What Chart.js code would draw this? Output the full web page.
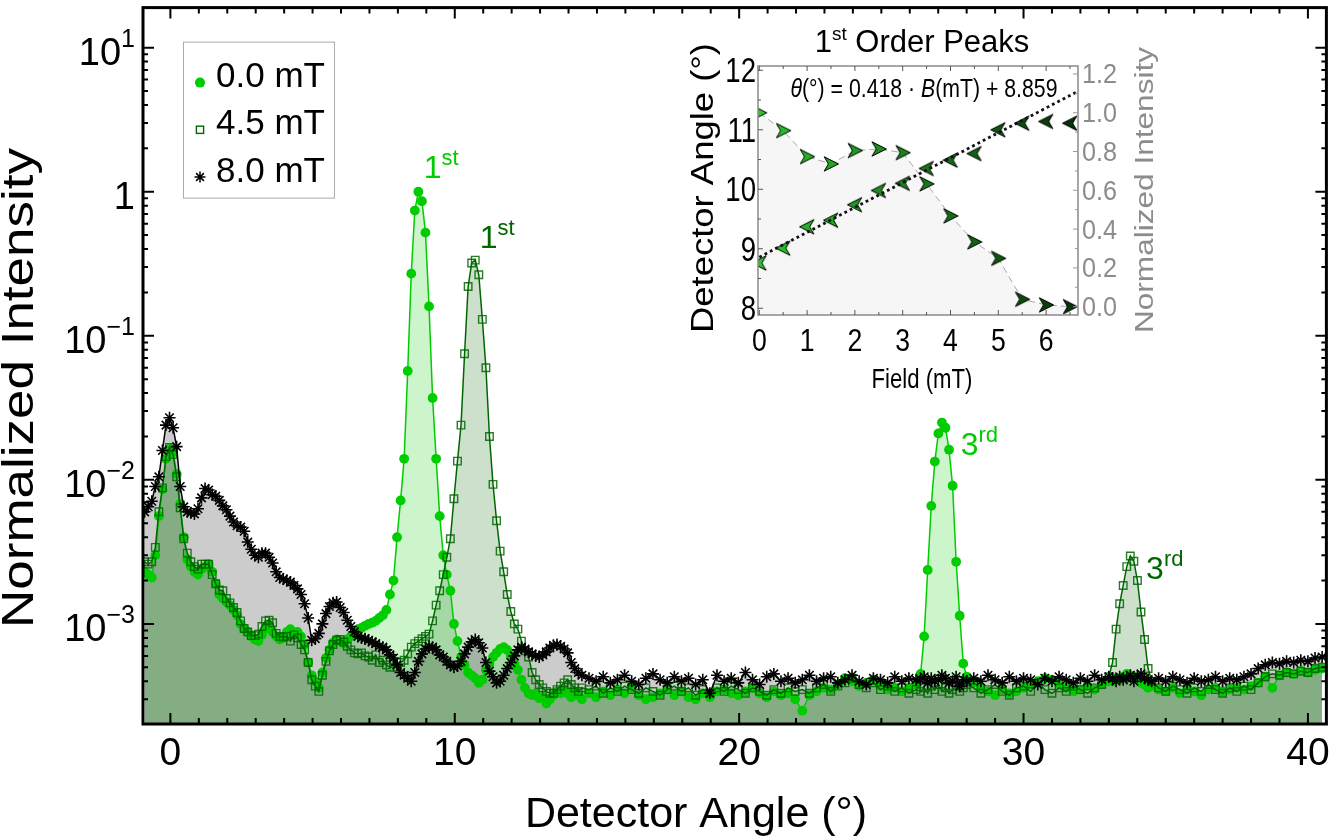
<!DOCTYPE html>
<html>
<head>
<meta charset="utf-8">
<title>Detector angle scans at 0.0, 4.5 and 8.0 mT</title>
<script src="https://cdn.jsdelivr.net/npm/chart.js@4.4.1/dist/chart.umd.min.js"></script>
<style>
  html, body { margin: 0; padding: 0; background: #fff; }
  #wrap { position: relative; width: 1334px; height: 836px; overflow: hidden; }
  #main { position: absolute; left: 0; top: 0; }
  #inset { position: absolute; left: 680px; top: 15px; }
</style>
</head>
<body>
<div id="wrap">
  <canvas id="main" width="1334" height="836"></canvas>
  <canvas id="inset" width="480" height="385"></canvas>
</div>
<script>
// ---- scan angles (deg), fine steps up to 14.5 deg ----
const angleNear = [
  -0.905, -0.78, -0.655, -0.53, -0.405, -0.28, -0.155, -0.03, 0.095, 0.22,
  0.345, 0.47, 0.595, 0.72, 0.845, 0.97, 1.095, 1.22, 1.345, 1.47,
  1.595, 1.72, 1.845, 1.97, 2.095, 2.22, 2.345, 2.47, 2.595, 2.72,
  2.845, 2.97, 3.095, 3.22, 3.345, 3.47, 3.595, 3.72, 3.845, 3.97,
  4.095, 4.22, 4.345, 4.47, 4.595, 4.72, 4.845, 4.97, 5.095, 5.22,
  5.345, 5.47, 5.595, 5.72, 5.845, 5.97, 6.095, 6.22, 6.345, 6.47,
  6.595, 6.72, 6.845, 6.97, 7.095, 7.22, 7.345, 7.47, 7.595, 7.72,
  7.845, 7.97, 8.095, 8.22, 8.345, 8.47, 8.595, 8.72, 8.845, 8.97,
  9.095, 9.22, 9.345, 9.47, 9.595, 9.72, 9.845, 9.97, 10.095, 10.22,
  10.345, 10.47, 10.595, 10.72, 10.845, 10.97, 11.095, 11.22, 11.345, 11.47,
  11.595, 11.72, 11.845, 11.97, 12.095, 12.22, 12.345, 12.47, 12.595, 12.72,
  12.845, 12.97, 13.095, 13.22, 13.345, 13.47, 13.595, 13.72, 13.845, 13.97,
  14.095, 14.22, 14.345, 14.47
];
// ---- scan angles (deg) beyond 14.5 deg ----
const angleFar = [
  14.72, 14.97, 15.22, 15.47, 15.72, 15.97, 16.22, 16.47, 16.72, 16.97,
  17.22, 17.47, 17.72, 17.97, 18.22, 18.47, 18.72, 18.97, 19.22, 19.47,
  19.72, 19.97, 20.22, 20.47, 20.72, 20.97, 21.22, 21.47, 21.72, 21.97,
  22.22, 22.47, 22.72, 22.97, 23.22, 23.47, 23.72, 23.97, 24.22, 24.47,
  24.72, 24.97, 25.22, 25.47, 25.72, 25.97, 26.22,
  26.38, 26.505, 26.63, 26.755, 26.88, 27.005, 27.13, 27.255, 27.38, 27.505, 27.63, 27.755, 27.88, 28.005,
  28.25, 28.5, 28.75, 29, 29.25, 29.5, 29.75, 30, 30.25, 30.5, 30.75, 31, 31.25, 31.5, 31.75, 32, 32.25, 32.5, 32.75, 33,
  33.13, 33.255, 33.38, 33.505, 33.63, 33.755, 33.88, 34.005, 34.13, 34.255, 34.38, 34.505,
  34.75, 35, 35.25, 35.5, 35.75, 36, 36.25, 36.5, 36.75, 37, 37.25, 37.5, 37.75, 38, 38.25, 38.5, 38.75, 39, 39.25, 39.5, 39.75, 40, 40.25, 40.5
];

// ---- normalized intensity, 0.0 mT ----
const int00Near = [
  2.3e-3, 2.2e-3, 2.1e-3, 3.0e-3, 5.6e-3, 8.6e-3, 1.4e-2, 1.65e-2, 1.55e-2, 1.1e-2,
  6.8e-3, 4.0e-3, 2.8e-3, 2.5e-3, 2.3e-3, 2.2e-3, 2.4e-3, 2.5e-3, 2.6e-3, 2.3e-3,
  1.9e-3, 1.6e-3, 1.5e-3, 1.42e-3, 1.35e-3, 1.25e-3, 1.15e-3, 1.0e-3, 9.2e-4, 8.8e-4,
  8.2e-4, 7.8e-4, 7.6e-4, 8.4e-4, 9.3e-4, 9.8e-4, 8.8e-4, 8.2e-4, 7.8e-4, 8.0e-4,
  8.8e-4, 9.2e-4, 8.4e-4, 8.8e-4, 8.2e-4, 7.2e-4, 5.4e-4, 4.4e-4, 4.0e-4, 3.6e-4,
  4.6e-4, 5.8e-4, 6.6e-4, 7.4e-4, 7.8e-4, 7.6e-4, 7.3e-4, 7.8e-4, 8.2e-4, 8.6e-4,
  9.2e-4, 9.4e-4, 9.7e-4, 1.0e-3, 1.02e-3, 1.05e-3, 1.1e-3, 1.15e-3, 1.25e-3, 1.6e-3,
  2.0e-3, 4.0e-3, 7.2e-3, 1.4e-2, 5.7e-2, 0.27, 0.74, 1.0, 0.86, 0.52,
  0.16, 3.7e-2, 1.4e-2, 5.6e-3, 3.0e-3, 2.2e-3, 1.7e-3, 1.0e-3, 7.6e-4, 5.9e-4,
  5.2e-4, 4.6e-4, 4.4e-4, 4.2e-4, 3.9e-4, 4.1e-4, 4.8e-4, 5.3e-4, 5.9e-4, 6.3e-4,
  6.7e-4, 6.9e-4, 6.6e-4, 6.0e-4, 5.3e-4, 4.8e-4, 4.1e-4, 3.6e-4, 3.3e-4, 3.2e-4,
  3.3e-4, 3.05e-4, 3.1e-4, 2.8e-4, 3.0e-4, 3.2e-4, 3.4e-4, 3.3e-4, 3.5e-4, 3.3e-4,
  3.1e-4, 3.4e-4, 3.2e-4, 3.0e-4
];
const int00Far = [
  3.3e-4, 3.1e-4, 3.4e-4, 3.2e-4, 3.5e-4, 3.3e-4, 3.6e-4, 3.2e-4, 3.0e-4, 3.1e-4,
  3.3e-4, 3.5e-4, 3.2e-4, 3.4e-4, 3.1e-4, 3.0e-4, 3.3e-4, 3.1e-4, 3.4e-4, 3.5e-4,
  3.3e-4, 3.2e-4, 3.4e-4, 3.6e-4, 3.3e-4, 3.1e-4, 3.4e-4, 3.2e-4, 3.3e-4, 3.0e-4,
  2.5e-4, 3.2e-4, 3.4e-4, 3.6e-4, 3.5e-4, 3.8e-4, 4.2e-4, 4.0e-4, 3.7e-4, 3.9e-4,
  4.1e-4, 3.7e-4, 3.5e-4, 3.6e-4, 3.4e-4, 3.6e-4, 3.8e-4,
  4.5e-4, 8.2e-4, 2.37e-3, 6.6e-3, 1.34e-2, 2.1e-2, 2.5e-2, 2.3e-2, 1.62e-2, 9.1e-3, 2.7e-3, 1.14e-3, 5.3e-4, 4.3e-4,
  3.9e-4, 3.6e-4, 3.4e-4, 3.2e-4, 3.5e-4, 3.3e-4, 3.4e-4, 3.6e-4, 3.8e-4, 4.0e-4, 4.2e-4, 4.1e-4, 3.8e-4, 3.6e-4, 3.4e-4, 3.5e-4, 3.7e-4, 3.5e-4, 3.8e-4, 4.0e-4,
  4.0e-4, 4.2e-4, 4.1e-4, 4.3e-4, 4.5e-4, 4.4e-4, 4.3e-4, 4.1e-4, 3.9e-4, 3.8e-4, 3.6e-4, 3.7e-4,
  3.5e-4, 3.4e-4, 3.6e-4, 3.3e-4, 3.5e-4, 3.4e-4, 3.2e-4, 3.5e-4, 3.6e-4, 3.4e-4, 3.5e-4, 3.6e-4, 3.5e-4, 3.7e-4, 3.9e-4, 4.3e-4, 3.6e-4, 4.4e-4, 4.6e-4, 4.5e-4, 4.7e-4, 4.6e-4, 4.8e-4, 4.9e-4
];

// ---- normalized intensity, 4.5 mT ----
const int45Near = [
  2.7e-3, 2.6e-3, 2.7e-3, 3.4e-3, 6.0e-3, 8.8e-3, 1.45e-2, 1.68e-2, 1.5e-2, 1.05e-2,
  6.4e-3, 3.9e-3, 3.1e-3, 2.7e-3, 2.5e-3, 2.4e-3, 2.6e-3, 2.6e-3, 2.6e-3, 2.2e-3,
  1.9e-3, 1.72e-3, 1.7e-3, 1.5e-3, 1.4e-3, 1.3e-3, 1.2e-3, 1.05e-3, 9.3e-4, 8.8e-4,
  8.3e-4, 8.3e-4, 8.5e-4, 9.6e-4, 1.05e-3, 1.06e-3, 1.02e-3, 8.6e-4, 8.2e-4, 8.1e-4,
  8.2e-4, 7.6e-4, 8.4e-4, 8.0e-4, 7.2e-4, 6.6e-4, 5.4e-4, 4.1e-4, 3.7e-4, 3.4e-4,
  4.4e-4, 5.5e-4, 6.5e-4, 7.2e-4, 7.7e-4, 7.8e-4, 7.5e-4, 7.0e-4, 6.6e-4, 6.3e-4,
  6.2e-4, 6.3e-4, 6.0e-4, 5.9e-4, 5.6e-4, 6.1e-4, 5.4e-4, 5.6e-4, 5.2e-4, 5.0e-4,
  5.3e-4, 5.0e-4, 5.4e-4, 5.6e-4, 6.2e-4, 6.9e-4, 7.3e-4, 7.6e-4, 7.9e-4, 8.2e-4,
  8.5e-4, 1.05e-3, 1.35e-3, 1.7e-3, 2.2e-3, 2.9e-3, 3.9e-3, 7.4e-3, 1.35e-2, 2.4e-2,
  7.5e-2, 0.22, 0.32, 0.335, 0.265, 0.13, 6.0e-2, 2.0e-2, 9.3e-3, 5.2e-3,
  3.2e-3, 2.3e-3, 1.6e-3, 1.22e-3, 1.0e-3, 9.2e-4, 7.6e-4, 6.5e-4, 5.9e-4, 4.6e-4,
  4.1e-4, 3.8e-4, 3.6e-4, 3.4e-4, 3.3e-4, 3.3e-4, 3.5e-4, 3.7e-4, 3.9e-4, 4.1e-4,
  3.8e-4, 3.6e-4, 3.4e-4, 3.6e-4
];
const int45Far = [
  3.5e-4, 3.7e-4, 3.3e-4, 3.6e-4, 3.4e-4, 3.7e-4, 3.5e-4, 3.3e-4, 3.6e-4, 3.4e-4,
  3.2e-4, 3.5e-4, 3.7e-4, 3.4e-4, 3.6e-4, 3.2e-4, 3.5e-4, 3.3e-4, 3.6e-4, 3.4e-4,
  3.7e-4, 3.5e-4, 3.3e-4, 3.6e-4, 3.4e-4, 3.2e-4, 3.5e-4, 3.3e-4, 3.6e-4, 3.4e-4,
  3.5e-4, 3.3e-4, 3.6e-4, 3.8e-4, 3.4e-4, 3.7e-4, 3.9e-4, 4.2e-4, 3.8e-4, 3.6e-4,
  3.9e-4, 3.5e-4, 3.7e-4, 3.4e-4, 3.6e-4, 3.3e-4, 3.5e-4,
  3.4e-4, 3.6e-4, 3.3e-4, 3.7e-4, 3.5e-4, 3.8e-4, 3.4e-4, 3.6e-4, 3.3e-4, 3.5e-4, 3.7e-4, 3.4e-4, 3.6e-4, 3.8e-4,
  3.6e-4, 3.3e-4, 3.5e-4, 3.8e-4, 3.4e-4, 3.2e-4, 3.6e-4, 3.7e-4, 3.4e-4, 3.9e-4, 3.5e-4, 3.3e-4, 3.6e-4, 3.4e-4, 3.7e-4, 3.5e-4, 3.3e-4, 3.6e-4, 3.8e-4, 4.3e-4,
  5.4e-4, 9.2e-4, 1.38e-3, 1.85e-3, 2.5e-3, 2.96e-3, 2.72e-3, 2.0e-3, 1.21e-3, 7.8e-4, 4.9e-4, 4.0e-4,
  3.6e-4, 3.4e-4, 3.7e-4, 3.5e-4, 3.3e-4, 3.6e-4, 3.4e-4, 3.8e-4, 3.5e-4, 3.3e-4, 3.6e-4, 3.4e-4, 3.7e-4, 3.5e-4, 3.9e-4, 4.3e-4, 4.5e-4, 4.4e-4, 4.6e-4, 4.5e-4, 4.7e-4, 4.6e-4, 4.9e-4, 5.0e-4
];

// ---- normalized intensity, 8.0 mT ----
const int80Near = [
  6.0e-3, 6.5e-3, 7.1e-3, 9.0e-3, 1.05e-2, 1.6e-2, 2.4e-2, 2.7e-2, 2.3e-2, 1.7e-2,
  9.0e-3, 6.5e-3, 6.0e-3, 5.9e-3, 5.8e-3, 6.3e-3, 7.5e-3, 8.7e-3, 8.5e-3, 7.9e-3,
  7.7e-3, 7.2e-3, 6.6e-3, 6.2e-3, 5.6e-3, 5.1e-3, 4.8e-3, 4.7e-3, 4.4e-3, 3.7e-3,
  3.3e-3, 3.0e-3, 2.9e-3, 3.1e-3, 3.1e-3, 2.9e-3, 2.65e-3, 2.3e-3, 2.1e-3, 2.05e-3,
  2.0e-3, 1.95e-3, 1.85e-3, 1.75e-3, 1.6e-3, 1.38e-3, 1.1e-3, 7.7e-4, 7.9e-4, 8.6e-4,
  1.0e-3, 1.18e-3, 1.32e-3, 1.4e-3, 1.42e-3, 1.3e-3, 1.2e-3, 1.06e-3, 9.6e-4, 8.8e-4,
  8.2e-4, 8.0e-4, 7.9e-4, 7.7e-4, 7.5e-4, 7.3e-4, 7.0e-4, 6.9e-4, 6.6e-4, 6.1e-4,
  5.8e-4, 5.2e-4, 4.6e-4, 4.4e-4, 4.2e-4, 4.0e-4, 4.6e-4, 5.5e-4, 6.2e-4, 6.7e-4,
  7.0e-4, 6.9e-4, 6.6e-4, 6.1e-4, 5.9e-4, 5.5e-4, 5.2e-4, 5.0e-4, 5.1e-4, 5.5e-4,
  6.2e-4, 6.9e-4, 7.5e-4, 7.8e-4, 7.4e-4, 6.8e-4, 5.4e-4, 4.7e-4, 4.3e-4, 3.9e-4,
  4.0e-4, 4.4e-4, 4.9e-4, 5.4e-4, 6.0e-4, 6.6e-4, 6.9e-4, 6.7e-4, 6.4e-4, 6.2e-4,
  6.0e-4, 5.9e-4, 6.1e-4, 6.4e-4, 6.8e-4, 7.1e-4, 7.2e-4, 7.0e-4, 6.7e-4, 6.3e-4,
  5.4e-4, 4.9e-4, 4.6e-4, 4.4e-4
];
const int80Far = [
  4.2e-4, 4.0e-4, 4.3e-4, 3.9e-4, 4.1e-4, 4.4e-4, 4.0e-4, 3.8e-4, 4.2e-4, 4.5e-4,
  4.1e-4, 3.9e-4, 4.3e-4, 4.0e-4, 4.2e-4, 3.8e-4, 4.1e-4, 3.3e-4, 4.4e-4, 4.0e-4,
  4.2e-4, 3.9e-4, 4.6e-4, 4.1e-4, 3.8e-4, 4.3e-4, 4.5e-4, 4.0e-4, 4.2e-4, 3.9e-4,
  4.1e-4, 4.4e-4, 4.0e-4, 4.2e-4, 4.3e-4, 3.9e-4, 4.1e-4, 4.4e-4, 4.0e-4, 3.8e-4,
  4.2e-4, 4.1e-4, 3.9e-4, 4.3e-4, 4.0e-4, 4.2e-4, 4.1e-4,
  4.1e-4, 4.3e-4, 3.9e-4, 4.2e-4, 4.0e-4, 4.1e-4, 4.4e-4, 4.2e-4, 3.9e-4, 4.0e-4, 4.3e-4, 3.7e-4, 4.1e-4, 4.0e-4,
  4.2e-4, 4.0e-4, 4.4e-4, 4.1e-4, 3.9e-4, 4.3e-4, 4.0e-4, 4.2e-4, 4.1e-4, 3.8e-4, 4.2e-4, 4.0e-4, 4.3e-4, 4.1e-4, 3.9e-4, 4.2e-4, 4.0e-4, 4.4e-4, 4.1e-4, 4.3e-4,
  4.2e-4, 4.0e-4, 4.3e-4, 4.1e-4, 4.2e-4, 4.4e-4, 4.0e-4, 4.3e-4, 4.5e-4, 4.2e-4, 4.1e-4, 4.0e-4,
  4.2e-4, 4.0e-4, 4.3e-4, 4.1e-4, 3.9e-4, 4.2e-4, 4.0e-4, 4.1e-4, 4.3e-4, 4.0e-4, 4.2e-4, 4.1e-4, 4.3e-4, 4.5e-4, 4.9e-4, 5.2e-4, 5.4e-4, 5.3e-4, 5.5e-4, 5.4e-4, 5.6e-4, 5.5e-4, 5.8e-4, 5.9e-4
];

const seriesLabels = ['0.0 mT', '4.5 mT', '8.0 mT'];
const xLabelTicks = [0, 10, 20, 30, 40];
const yDecades = [-3, -2, -1, 0, 1];

// ---- inset: first order peak vs field ----
const fieldMT = [0, 0.5, 1, 1.5, 2, 2.5, 3, 3.5, 4, 4.5, 5, 5.5, 6, 6.5];
const peakAngle = [8.76, 9.01, 9.37, 9.48, 9.74, 9.98, 10.1, 10.35, 10.49, 10.6, 11.0, 11.11, 11.14, 11.11];
const peakIntensity = [1.0, 0.908, 0.774, 0.736, 0.805, 0.813, 0.794, 0.633, 0.468, 0.334, 0.249, 0.038, 0.009, 0.0];
const fitField = [0, 6.667];
const fitAngle = [8.859, 11.646];
const insetAngleTicks = [8, 9, 10, 11, 12];
const insetIntTicks = [0, 0.2, 0.4, 0.6, 0.8, 1.0, 1.2];
const insetFieldTicks = [0, 1, 2, 3, 4, 5, 6];

const FONT = '"Liberation Sans", Arial, Helvetica, sans-serif';
const GREEN = 'rgb(0,204,0)';
const DKGREEN = 'rgb(0,102,0)';

const angles = angleNear.concat(angleFar);
function toPoints(near, far) {
  const v = near.concat(far);
  if (v.length !== angles.length) console.warn('length mismatch', v.length, angles.length);
  return angles.map((a, i) => ({ x: a, y: v[i] }));
}

// text made of runs: [text, size, rise, italic]; sx/sy stretch the whole run
function drawRuns(ctx, parts, x, y, align, color, sx, sy) {
  sx = sx || 1;
  sy = sy || 1;
  let w = 0;
  parts.forEach(p => {
    ctx.font = (p[3] ? 'italic ' : '') + p[1] + 'px ' + FONT;
    w += ctx.measureText(p[0]).width;
  });
  ctx.save();
  ctx.translate(x, y);
  ctx.scale(sx, sy);
  let cx = align === 'right' ? -w : align === 'center' ? -w / 2 : 0;
  ctx.fillStyle = color;
  ctx.textAlign = 'left';
  ctx.textBaseline = 'alphabetic';
  parts.forEach(p => {
    ctx.font = (p[3] ? 'italic ' : '') + p[1] + 'px ' + FONT;
    ctx.fillText(p[0], cx, -(p[2] || 0));
    cx += ctx.measureText(p[0]).width;
  });
  ctx.restore();
  return w * sx;
}

function drawVertical(ctx, text, x, y, size, length, color) {
  ctx.save();
  ctx.translate(x, y);
  ctx.rotate(-Math.PI / 2);
  ctx.font = size + 'px ' + FONT;
  const w = ctx.measureText(text).width;
  ctx.scale(length / w, 1);
  ctx.fillStyle = color;
  ctx.textAlign = 'center';
  ctx.textBaseline = 'alphabetic';
  ctx.fillText(text, 0, 0);
  ctx.restore();
}

function drawStar(ctx, x, y, r) {
  ctx.beginPath();
  for (let k = 0; k < 4; k++) {
    const t = k * Math.PI / 4;
    ctx.moveTo(x - Math.cos(t) * r, y - Math.sin(t) * r);
    ctx.lineTo(x + Math.cos(t) * r, y + Math.sin(t) * r);
  }
  ctx.stroke();
}

const mainDecor = {
  id: 'mainDecor',
  afterDraw(chart) {
    const ctx = chart.ctx, a = chart.chartArea;
    const xs = chart.scales.x, ys = chart.scales.y;
    ctx.save();

    // inward ticks on all four sides
    ctx.strokeStyle = '#000';
    ctx.lineWidth = 2;
    ctx.beginPath();
    for (let d = 0; d <= 40; d++) {
      const px = xs.getPixelForValue(d), len = d % 10 === 0 ? 11 : 6;
      ctx.moveTo(px, a.bottom); ctx.lineTo(px, a.bottom - len);
      ctx.moveTo(px, a.top); ctx.lineTo(px, a.top + len);
    }
    for (let e = -4; e <= 1; e++) {
      for (let m = 1; m <= 9; m++) {
        const v = m * Math.pow(10, e);
        if (v < ys.min || v > ys.max) continue;
        const py = ys.getPixelForValue(v), len = m === 1 ? 11 : 5;
        ctx.moveTo(a.left, py); ctx.lineTo(a.left + len, py);
        ctx.moveTo(a.right, py); ctx.lineTo(a.right - len, py);
      }
    }
    ctx.stroke();
    ctx.lineWidth = 3;
    ctx.strokeRect(a.left, a.top, a.right - a.left, a.bottom - a.top);

    // tick labels
    xLabelTicks.forEach(v => {
      drawRuns(ctx, [[String(v), 39]], xs.getPixelForValue(v), a.bottom + 41, 'center', '#000');
    });
    yDecades.forEach(e => {
      const py = ys.getPixelForValue(Math.pow(10, e));
      const parts = e === 0 ? [['1', 38]] : [['10', 38], [e < 0 ? '\u2212' + (-e) : String(e), 25, 18]];
      drawRuns(ctx, parts, a.left - 8, py + 17, 'right', '#000');
    });

    // axis titles
    drawRuns(ctx, [['Detector Angle (\u00b0)', 43]], 696, 827, 'center', '#000');
    drawVertical(ctx, 'Normalized Intensity', 33, 388, 45, 480, '#000');

    // legend
    const lx = a.left + 40, ly = a.top + 34;
    ctx.lineWidth = 1;
    ctx.strokeStyle = '#ababab';
    ctx.strokeRect(lx + 0.5, ly + 0.5, 151, 156);
    seriesLabels.forEach((lab, i) => {
      const my = ly + 41 + i * 47.2, mx = lx + 17;
      if (i === 0) {
        ctx.fillStyle = GREEN;
        ctx.beginPath(); ctx.arc(mx, my, 5, 0, Math.PI * 2); ctx.fill();
      } else if (i === 1) {
        ctx.strokeStyle = DKGREEN; ctx.lineWidth = 1.4;
        ctx.strokeRect(mx - 3.6, my - 3.6, 7.2, 7.2);
      } else {
        ctx.strokeStyle = '#000'; ctx.lineWidth = 1.5;
        drawStar(ctx, mx, my, 5.5);
      }
      drawRuns(ctx, [[lab, 35]], lx + 33, ly + 45 + i * 47.5, 'left', '#000');
    });

    // peak order labels
    const notes = [
      [8.98, 1.24, '1', 'st', GREEN],
      [10.95, 0.41, '1', 'st', DKGREEN],
      [27.86, 0.0149, '3', 'rd', GREEN],
      [34.38, 2.05e-3, '3', 'rd', DKGREEN]
    ];
    notes.forEach(n => {
      drawRuns(ctx, [[n[2], 32], [n[3], 22, 13]], xs.getPixelForValue(n[0]) - 2, ys.getPixelForValue(n[1]), 'left', n[4]);
    });
    ctx.restore();
  }
};

new Chart(document.getElementById('main'), {
  type: 'line',
  data: {
    datasets: [
      {
        label: seriesLabels[2],
        data: toPoints(int80Near, int80Far),
        borderColor: '#000',
        borderWidth: 1.5,
        backgroundColor: 'rgba(0,0,0,0.2)',
        fill: 'start',
        pointStyle: 'star',
        pointRadius: 6,
        pointBorderColor: '#000',
        pointBorderWidth: 1.6,
        pointBackgroundColor: '#000'
      },
      {
        label: seriesLabels[1],
        data: toPoints(int45Near, int45Far),
        borderColor: DKGREEN,
        borderWidth: 1.5,
        backgroundColor: 'rgba(0,102,0,0.2)',
        fill: 'start',
        pointStyle: 'rect',
        pointRadius: 5.3,
        pointBorderColor: 'rgba(0,102,0,0.85)',
        pointBorderWidth: 1.4,
        pointBackgroundColor: 'rgba(0,0,0,0)'
      },
      {
        label: seriesLabels[0],
        data: toPoints(int00Near, int00Far),
        borderColor: GREEN,
        borderWidth: 1.5,
        backgroundColor: 'rgba(0,204,0,0.2)',
        fill: 'start',
        pointStyle: 'circle',
        pointRadius: 4.9,
        pointBorderWidth: 0,
        pointBackgroundColor: GREEN
      }
    ]
  },
  options: {
    responsive: false,
    animation: false,
    events: [],
    layout: { padding: { left: 143, right: 3, top: 3, bottom: 112 } },
    elements: { line: { tension: 0 } },
    plugins: {
      legend: { display: false },
      tooltip: { enabled: false },
      filler: { drawTime: 'beforeDatasetsDraw' }
    },
    scales: {
      x: {
        type: 'linear', min: -0.963, max: 40.65, display: false,
        grid: { display: false, drawTicks: false }, ticks: { display: false }, border: { display: false }
      },
      y: {
        type: 'logarithmic', min: 2.02e-4, max: 18.97, display: false,
        grid: { display: false, drawTicks: false }, ticks: { display: false }, border: { display: false }
      }
    }
  },
  plugins: [mainDecor]
});

// ---- inset ----
function arrowMarker(fill, dir) {
  const c = document.createElement('canvas');
  c.width = 18; c.height = 18;
  const g = c.getContext('2d');
  g.translate(9, 9);
  if (dir < 0) g.scale(-1, 1);
  g.beginPath();
  g.moveTo(7.5, 0);
  g.lineTo(-6.8, -7.2);
  g.lineTo(-2.6, 0);
  g.lineTo(-6.8, 7.2);
  g.closePath();
  g.fillStyle = fill;
  g.fill();
  g.lineWidth = 1;
  g.strokeStyle = '#000';
  g.stroke();
  return c;
}
function shade(i) {
  const t = i / (fieldMT.length - 1);
  const r = Math.round(40 + (6 - 40) * t), gg = Math.round(200 + (52 - 200) * t), b = Math.round(40 + (6 - 40) * t);
  return 'rgb(' + r + ',' + gg + ',' + b + ')';
}
const rightArrows = fieldMT.map((f, i) => arrowMarker(shade(i), 1));
const leftArrows = fieldMT.map((f, i) => arrowMarker(shade(i), -1));

const insetDecor = {
  id: 'insetDecor',
  afterDraw(chart) {
    const ctx = chart.ctx, a = chart.chartArea;
    const xs = chart.scales.x, yA = chart.scales.yA, yI = chart.scales.yI;
    ctx.save();
    ctx.strokeStyle = '#8a8a8a';
    ctx.lineWidth = 1.5;
    ctx.strokeRect(a.left, a.top, a.right - a.left, a.bottom - a.top);

    ctx.lineWidth = 1;
    ctx.strokeStyle = '#555';
    ctx.beginPath();
    for (let f = 0; f <= 6.5; f += 0.5) {
      const px = xs.getPixelForValue(f), len = f % 1 === 0 ? 5 : 3;
      ctx.moveTo(px, a.bottom); ctx.lineTo(px, a.bottom - len);
      ctx.moveTo(px, a.top); ctx.lineTo(px, a.top + len);
    }
    for (let t = 8; t <= 12; t += 0.5) {
      const py = yA.getPixelForValue(t), len = t % 1 === 0 ? 5 : 3;
      ctx.moveTo(a.left, py); ctx.lineTo(a.left + len, py);
    }
    ctx.stroke();
    ctx.strokeStyle = '#999';
    ctx.beginPath();
    for (let i = 0; i <= 12; i++) {
      const py = yI.getPixelForValue(i / 10), len = i % 2 === 0 ? 5 : 3;
      ctx.moveTo(a.right, py); ctx.lineTo(a.right - len, py);
    }
    ctx.stroke();

    insetAngleTicks.forEach(v => {
      drawRuns(ctx, [[String(v), 29]], a.left - 2, yA.getPixelForValue(v) + 12, 'right', '#000', 0.95, 1.2);
    });
    insetIntTicks.forEach(v => {
      drawRuns(ctx, [[v.toFixed(1), 26]], a.right + 4, yI.getPixelForValue(v) + 9.5, 'left', '#8c8c8c', 0.97, 1.05);
    });
    insetFieldTicks.forEach(v => {
      drawRuns(ctx, [[String(v), 28]], xs.getPixelForValue(v), a.bottom + 36, 'center', '#000', 0.95, 1.15);
    });

    drawRuns(ctx, [['Field (mT)', 27]], 242, 373, 'center', '#000', 0.82, 1.05);
    drawVertical(ctx, 'Detector Angle (\u00b0)', 33, 173, 32, 290, '#000');
    drawVertical(ctx, 'Normalized Intensity', 473, 175, 25, 286, '#8c8c8c');

    drawRuns(ctx, [['1', 31], ['st', 19, 12], [' Order Peaks', 31]], 242, 37, 'center', '#000');

    const eq = [['\u03b8', 24, 0, true], ['(\u00b0) = 0.418 \u00b7 ', 24], ['B', 24, 0, true], ['(mT) + 8.859', 24]];
    let w = 0;
    eq.forEach(p => { ctx.font = (p[3] ? 'italic ' : '') + p[1] + 'px ' + FONT; w += ctx.measureText(p[0]).width; });
    drawRuns(ctx, eq, 244, 82, 'center', '#000', Math.min(1, 267 / w), 1.1);
    ctx.restore();
  }
};

new Chart(document.getElementById('inset'), {
  type: 'line',
  data: {
    datasets: [
      {
        label: 'linear fit',
        data: fitField.map((f, i) => ({ x: f, y: fitAngle[i] })),
        yAxisID: 'yA',
        borderColor: '#111',
        borderWidth: 2.8,
        borderDash: [2.8, 3.2],
        pointRadius: 0,
        fill: false
      },
      {
        label: 'peak angle',
        data: fieldMT.map((f, i) => ({ x: f, y: peakAngle[i] })),
        yAxisID: 'yA',
        showLine: false,
        pointStyle: leftArrows,
        pointRadius: 8,
        fill: false
      },
      {
        label: 'peak intensity',
        data: fieldMT.map((f, i) => ({ x: f, y: peakIntensity[i] })),
        yAxisID: 'yI',
        borderColor: '#a8a8a8',
        borderWidth: 1,
        borderDash: [7, 4],
        backgroundColor: 'rgba(0,0,0,0.035)',
        fill: 'start',
        pointStyle: rightArrows,
        pointRadius: 8
      }
    ]
  },
  options: {
    responsive: false,
    animation: false,
    events: [],
    layout: { padding: { left: 78, right: 82, top: 51, bottom: 85 } },
    elements: { line: { tension: 0 } },
    plugins: { legend: { display: false }, tooltip: { enabled: false } },
    scales: {
      x: {
        type: 'linear', min: -0.027, max: 6.667, display: false,
        grid: { display: false, drawTicks: false }, ticks: { display: false }, border: { display: false }
      },
      yA: {
        type: 'linear', position: 'left', min: 7.887, max: 12.072, display: false,
        grid: { display: false, drawTicks: false }, ticks: { display: false }, border: { display: false }
      },
      yI: {
        type: 'linear', position: 'right', min: -0.043, max: 1.241, display: false,
        grid: { display: false, drawTicks: false }, ticks: { display: false }, border: { display: false }
      }
    }
  },
  plugins: [insetDecor]
});
</script>
</body>
</html>
